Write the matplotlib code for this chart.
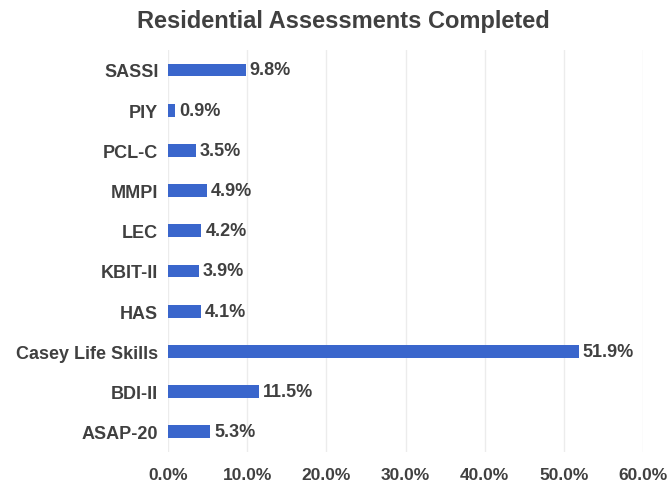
import matplotlib
matplotlib.use("Agg")
import matplotlib.pyplot as plt
from matplotlib.ticker import FuncFormatter

# Assessment share (%), listed bottom to top
assessments = ["ASAP-20", "BDI-II", "Casey Life Skills", "HAS", "KBIT-II",
               "LEC", "MMPI", "PCL-C", "PIY", "SASSI"]
percent = [5.3, 11.5, 51.9, 4.1, 3.9, 4.2, 4.9, 3.5, 0.9, 9.8]
xticks = [0, 10, 20, 30, 40, 50, 60]

plt.rcParams["font.family"] = ["Liberation Sans", "DejaVu Sans"]
text_col = "#404040"
bar_col = "#3a66cc"

fig = plt.figure(figsize=(6.67, 4.89), dpi=100)
ax = fig.add_axes([0.252, 0.074, 0.712, 0.822])
bars = ax.barh(assessments, percent, height=0.32, color=bar_col, zorder=3)
for b, v in zip(bars, percent):
    ax.text(v + 0.5, b.get_y() + b.get_height()/2, f"{v:.1f}%", va="center",
            ha="left", fontsize=13, fontweight="bold", color=text_col, zorder=4)

ax.set_xlim(0, 60); ax.set_ylim(-0.5, 9.5)
ax.set_xticks(xticks)
ax.xaxis.set_major_formatter(FuncFormatter(lambda v, p: f"{v:.1f}%"))
ax.grid(axis="x", color="#ececec", lw=1, zorder=0)
for s in ax.spines.values():
    s.set_visible(False)
ax.tick_params(axis="x", length=0, labelsize=12.5, labelcolor=text_col, pad=11)
ax.tick_params(axis="y", length=0, labelsize=13, labelcolor=text_col, pad=7)
for lab in ax.get_xticklabels() + ax.get_yticklabels():
    lab.set_fontweight("bold")

fig.suptitle("Residential Assessments Completed", x=0.515, y=0.98,
             fontsize=17, fontweight="bold", color=text_col)
fig.savefig("out.png", dpi=100)
